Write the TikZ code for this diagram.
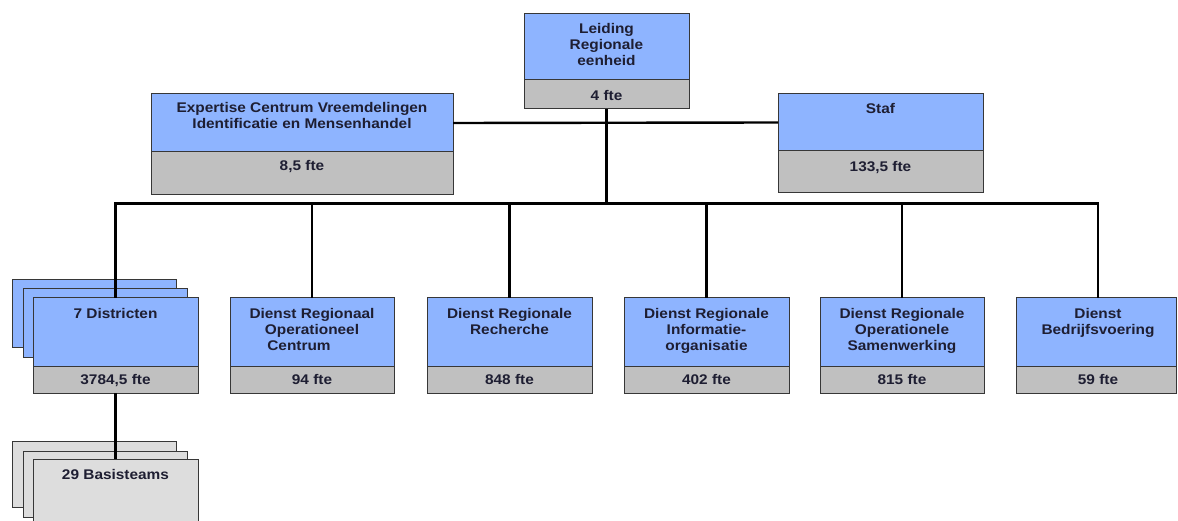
\documentclass[tikz,border=0pt]{standalone}
\usepackage{fontspec}
\setmainfont{Liberation Sans}[FakeStretch=1.1]
\definecolor{boxblue}{RGB}{142,180,255}
\definecolor{boxgray}{RGB}{192,192,192}
\definecolor{boxlight}{RGB}{221,221,221}
\definecolor{edge}{RGB}{55,55,55}
\definecolor{ink}{RGB}{30,30,50}
\tikzset{
  topbox/.style={draw=edge, fill=boxblue, line width=1pt, inner sep=0pt, outer sep=0pt},
  botbox/.style={draw=edge, fill=boxgray, line width=1pt, inner sep=0pt, outer sep=0pt},
  backbox/.style={draw=edge, fill=boxblue, line width=1pt},
  lightbox/.style={draw=edge, fill=boxlight, line width=1pt},
  lbl/.style={anchor=north, inner sep=0pt, align=center, text=ink,
    font=\fontsize{14}{16}\selectfont\bfseries},
  conn/.style={draw=black, line width=2.4pt},
}
% name, x1, y1, x2, ydiv, y2
\newcommand{\orgbox}[6]{%
  \node[topbox, minimum width={#4-#2}, minimum height={#5-#3}] (#1) at ({(#2+#4)/2},{(#3+#5)/2}) {};
  \node[botbox, minimum width={#4-#2}, minimum height={#6-#5}] (#1f) at ({(#2+#4)/2},{(#5+#6)/2}) {};
}
\begin{document}
\begin{tikzpicture}[x=1pt,y=-1pt]
\useasboundingbox (0,0) rectangle (1178,521);
\clip (0,0) rectangle (1178,521);
\fill[white] (0,0) rectangle (1178,521);

% stacked back boxes
\draw[backbox] (12,280) rectangle (176,347);
\draw[backbox] (23,289) rectangle (187,357);
\draw[lightbox] (12,441) rectangle (176,507);
\draw[lightbox] (23,451) rectangle (187,517);
\node[draw=edge, fill=boxlight, line width=1pt, inner sep=0pt, minimum width=165, minimum height=90] (bas) at (115.5,504) {};

% boxes
\orgbox{lead}{524}{14}{689}{80}{109}
\orgbox{ecv}{151}{94}{453}{152}{195}
\orgbox{staf}{778}{94}{983}{151}{193}
\orgbox{dist}{33}{298}{198}{366}{393}
\orgbox{droc}{230}{298}{394}{366}{393}
\orgbox{drr}{427}{298}{592}{366}{393}
\orgbox{dri}{624}{298}{789}{366}{393}
\orgbox{dros}{820}{298}{984}{366}{393}
\orgbox{dbv}{1016}{298}{1176}{366}{393}

% labels
\node[lbl] (leadt) at (606.5,23) {Leiding\\Regionale\\eenheid};
\node[lbl] (leadn) at (606.5,90) {4 fte};
\node[lbl] (ecvt) at (302,102) {Expertise Centrum Vreemdelingen\\Identificatie en Mensenhandel};
\node[lbl] (ecvn) at (302,160) {8,5 fte};
\node[lbl] (staft) at (880.5,103) {Staf};
\node[lbl] (stafn) at (880.5,161) {133,5 fte};
\node[lbl] (distt) at (115.5,308) {7 Districten};
\node[lbl] (distn) at (115.5,374) {3784,5 fte};
\node[lbl] (droct) at (312,308) {Dienst Regionaal\\Operationeel\\Centrum\hspace*{26pt}};
\node[lbl] (drocn) at (312,374) {94 fte};
\node[lbl] (drrt) at (509.5,308) {Dienst Regionale\\Recherche};
\node[lbl] (drrn) at (509.5,374) {848 fte};
\node[lbl] (drit) at (706.5,308) {Dienst Regionale\\Informatie-\\organisatie};
\node[lbl] (drin) at (706.5,374) {402 fte};
\node[lbl] (drost) at (902,308) {Dienst Regionale\\Operationele\\Samenwerking};
\node[lbl] (drosn) at (902,374) {815 fte};
\node[lbl] (dbvt) at (1098,308) {Dienst\\Bedrijfsvoering};
\node[lbl] (dbvn) at (1098,374) {59 fte};
\node[lbl] (bast) at (115.5,469) {29 Basisteams};

% connectors
\coordinate (busL) at (115.5,203.5);
\coordinate (busR) at (1098,203.5);
\coordinate (busC) at (606.5,203.5);
\draw[conn] (ecv.east) -- (staf.west);
\draw[conn] (leadf.south) -- (busC);
\draw[conn, line cap=rect] (busL) -- (busR);
\draw[conn] (busL) -- (dist.north);
\draw[conn] (droc.north |- busL) -- (droc.north);
\draw[conn] (drr.north |- busL) -- (drr.north);
\draw[conn] (dri.north |- busL) -- (dri.north);
\draw[conn] (dros.north |- busL) -- (dros.north);
\draw[conn] (busR) -- (busR |- dbv.north);
\draw[conn] (distf.south) -- (bas.north);
\end{tikzpicture}
\end{document}
